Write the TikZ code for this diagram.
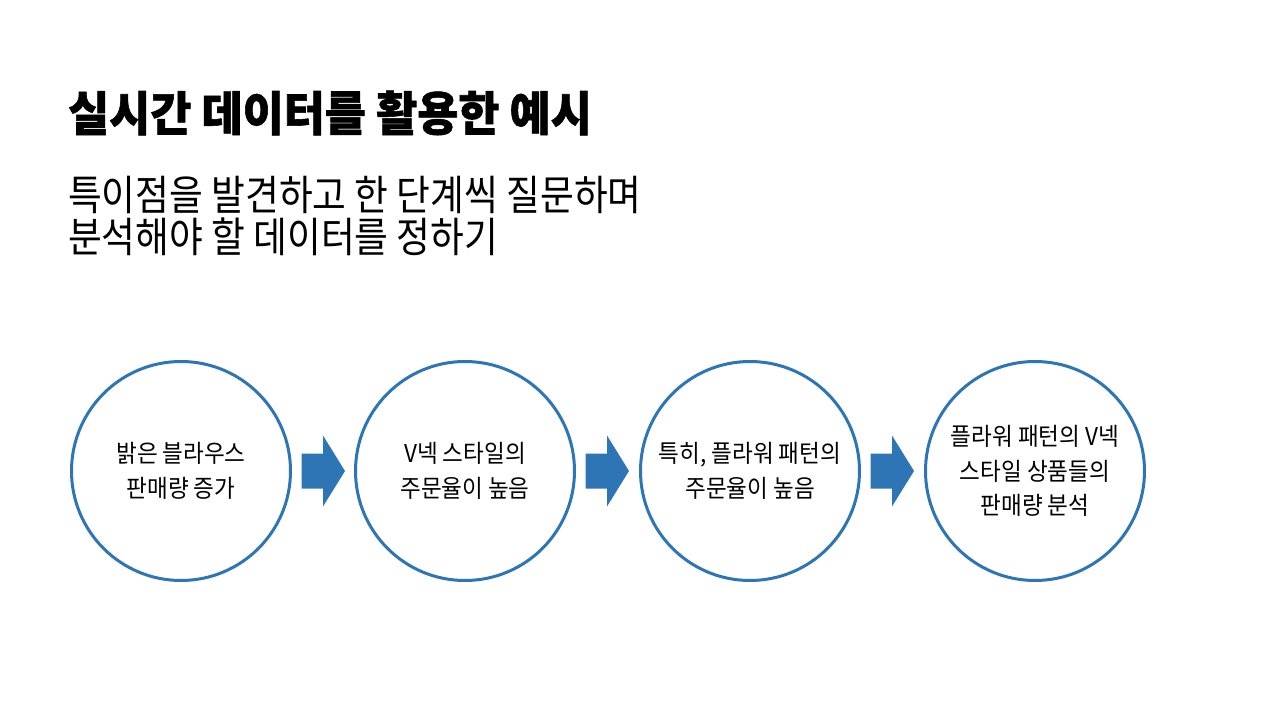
\documentclass[tikz,border=0pt]{standalone}
\usepackage{fontspec}
\usetikzlibrary{calc}
\newfontfamily\titlef[FakeStretch=0.95,FakeBold=1.2]{Noto Sans CJK KR}
\newfontfamily\subf[FakeStretch=0.885]{Noto Sans CJK KR}
\newfontfamily\circf[FakeStretch=0.92]{Noto Sans CJK KR}
\definecolor{ringblue}{HTML}{2E75B6}
\tikzset{
  ring/.style={circle, draw=ringblue, line width=3pt, fill=white, minimum size=219pt, inner sep=0pt, align=center, text=black,
    font=\circf\fontsize{24.5}{34.5}\selectfont},
  headline/.style={anchor=west, inner sep=0pt, text=black, font=\titlef\bfseries\fontsize{47}{50}\selectfont},
  subline/.style={anchor=west, inner sep=0pt, text=black, font=\subf\fontsize{41.5}{44}\selectfont},
  flowarrow/.style={fill=ringblue}
}
\begin{document}
\begin{tikzpicture}[x=1pt,y=-1pt]
\useasboundingbox (0,0) rectangle (1280,720);
\fill[white] (0,0) rectangle (1280,720);
\node[headline] (title) at (68,113) {실시간 데이터를 활용한 예시};
\node[subline] (sub1) at (68,194.5) {특이점을 발견하고 한 단계씩 질문하며};
\node[subline] (sub2) at (68,236.5) {분석해야 할 데이터를 정하기};

\node[ring] (c1) at (181,471) {밝은 블라우스\\판매량 증가};
\node[ring] (c2) at (465,471) {V넥 스타일의\\주문율이 높음};
\node[ring] (c3) at (750,471) {특히, 플라워 패턴의\\주문율이 높음};
\node[ring] (c4) at (1035,471) {플라워 패턴의 V넥\\스타일 상품들의\\판매량 분석};

\foreach \a in {c1,c2,c3}{
  \fill[flowarrow] ($(\a.center)+(120.5,-17.5)$) -- ($(\a.center)+(142,-17.5)$) -- ($(\a.center)+(142,-35.5)$)
    -- ($(\a.center)+(164,0)$) -- ($(\a.center)+(142,35.5)$) -- ($(\a.center)+(142,17.5)$)
    -- ($(\a.center)+(120.5,17.5)$) -- cycle;
}
\end{tikzpicture}
\end{document}
